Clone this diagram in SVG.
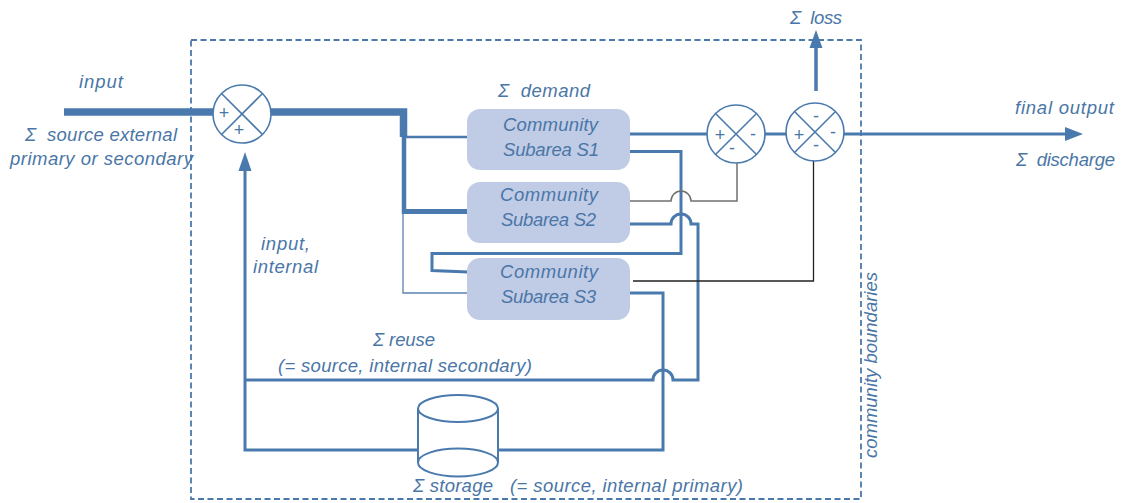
<svg xmlns="http://www.w3.org/2000/svg" width="1135" height="503" viewBox="0 0 1135 503">
  <style>
    text { font-family: "Liberation Sans", Arial, sans-serif; font-style: italic; fill: #4a76a6; white-space: pre; }
    .lbl { font-size: 18.5px; }
    .box-text { font-size: 18.5px; }
    .sign { font-size: 18px; font-style: normal; text-anchor: middle; dominant-baseline: central; }
    .flow { fill: none; stroke: #4a7aad; stroke-width: 3; }
    .thin { fill: none; stroke: #5a82b0; stroke-width: 1.3; }
    .grey { fill: none; stroke: #707070; stroke-width: 1.5; }
    .dark { fill: none; stroke: #222222; stroke-width: 1.3; }
    .junction circle { fill: #ffffff; stroke: #4a7aad; stroke-width: 1.6; }
    .junction line { stroke: #4a7aad; stroke-width: 1.6; }
    .area rect { fill: #c0cbe6; }
    .head { fill: #4a7aad; }
  </style>

  <!-- community boundary -->
  <rect x="191" y="40" width="670" height="459" fill="none" stroke="#4a7aad" stroke-width="1.8" stroke-dasharray="6 3.5"/>

  <g id="connectors">
    <!-- external input -->
    <line x1="64" y1="112" x2="213" y2="112" stroke="#4a7aad" stroke-width="7.5"/>
    <!-- trunk to sub-areas -->
    <path d="M271,112 H403.5 V137" fill="none" stroke="#4a7aad" stroke-width="7.5" stroke-linejoin="miter"/>
    <line x1="404" y1="137" x2="404" y2="214" stroke="#4a7aad" stroke-width="4.5"/>
    <line x1="402" y1="211.5" x2="468" y2="211.5" stroke="#4a7aad" stroke-width="5"/>
    <line x1="404" y1="137" x2="468" y2="137" stroke="#4a7aad" stroke-width="2.5"/>
    <path class="thin" d="M403,213 V293 H468"/>

    <!-- S1 to junction 2 -->
    <line class="flow" x1="630" y1="134" x2="707" y2="134"/>
    <!-- junction 2 to junction 3 -->
    <line class="flow" x1="765" y1="134" x2="786" y2="134"/>
    <!-- final output -->
    <line class="flow" x1="844" y1="134" x2="1068" y2="134"/>
    <polygon class="head" points="1083,134 1065,127 1065,141"/>
    <!-- loss -->
    <line x1="816" y1="91" x2="816" y2="46" stroke="#4a7aad" stroke-width="3.5"/>
    <polygon class="head" points="816,30 809.5,48 822.5,48"/>

    <!-- S1 loop to S3 -->
    <path class="flow" d="M626,151.5 H681 V253.5 H432 V270.5 L468,272"/>
    <!-- S2 to junction 2 (grey, with hop) -->
    <path class="grey" d="M630,201 H671 A10,10 0 0 1 691,201 H737 V163"/>
    <!-- S2 reuse line -->
    <path class="flow" d="M630,224 H671 A10,10 0 0 1 691,224 H698 V380 H673 A10,10 0 0 0 653,380 H245"/>
    <!-- S3 to junction 3 -->
    <path class="dark" d="M633,281 H813.5 V160"/>
    <!-- S3 to storage -->
    <path class="flow" d="M630,293 H663 V450 H498"/>
    <!-- storage to internal input -->
    <path class="flow" d="M418,450 H245 V170"/>
    <polygon class="head" points="245,152 238.5,171 251.5,171"/>
  </g>

  <!-- summing junctions -->
  <g id="junction-input" class="junction">
    <circle cx="242" cy="114" r="29"/>
    <line x1="221.5" y1="93.5" x2="262.5" y2="134.5"/>
    <line x1="262.5" y1="93.5" x2="221.5" y2="134.5"/>
    <text class="sign" x="224" y="113">+</text>
    <text class="sign" x="239" y="130">+</text>
  </g>
  <g id="junction-demand" class="junction">
    <circle cx="736" cy="134" r="29"/>
    <line x1="715.5" y1="113.5" x2="756.5" y2="154.5"/>
    <line x1="756.5" y1="113.5" x2="715.5" y2="154.5"/>
    <text class="sign" x="720" y="135">+</text>
    <text class="sign" x="753" y="134">-</text>
    <text class="sign" x="732" y="148">-</text>
  </g>
  <g id="junction-loss" class="junction">
    <circle cx="815" cy="132" r="29"/>
    <line x1="794.5" y1="111.5" x2="835.5" y2="152.5"/>
    <line x1="835.5" y1="111.5" x2="794.5" y2="152.5"/>
    <text class="sign" x="816" y="116">-</text>
    <text class="sign" x="799" y="135">+</text>
    <text class="sign" x="833" y="132">-</text>
    <text class="sign" x="816" y="145">-</text>
  </g>

  <!-- community sub-areas -->
  <g id="subarea-s1" class="area">
    <rect x="467" y="109" width="163" height="61" rx="13"/>
    <text class="box-text" x="503" y="131" textLength="95">Community</text>
    <text class="box-text" x="503" y="155.5" textLength="96">Subarea S1</text>
  </g>
  <g id="subarea-s2" class="area">
    <rect x="467" y="182" width="163" height="61" rx="13"/>
    <text class="box-text" x="500" y="201" textLength="98">Community</text>
    <text class="box-text" x="501" y="226" textLength="95">Subarea S2</text>
  </g>
  <g id="subarea-s3" class="area">
    <rect x="467" y="258" width="163" height="62" rx="13"/>
    <text class="box-text" x="500" y="278" textLength="98">Community</text>
    <text class="box-text" x="501" y="303" textLength="95">Subarea S3</text>
  </g>

  <!-- storage -->
  <g id="storage">
    <rect x="418" y="408.5" width="80" height="54" fill="#ffffff"/>
    <line x1="418" y1="408.5" x2="418" y2="462.5" stroke="#4a7aad" stroke-width="2"/>
    <line x1="498" y1="408.5" x2="498" y2="462.5" stroke="#4a7aad" stroke-width="2"/>
    <ellipse cx="458" cy="462.5" rx="40" ry="14" fill="none" stroke="#4a7aad" stroke-width="2"/>
    <ellipse cx="458" cy="408.5" rx="40" ry="13.5" fill="#ffffff" stroke="#4a7aad" stroke-width="2"/>
  </g>

  <!-- labels -->
  <g id="labels">
    <text class="lbl" x="79" y="88" textLength="44">input</text>
    <text class="lbl" x="25" y="141" textLength="152">Σ  source external</text>
    <text class="lbl" x="10" y="165" textLength="183">primary or secondary</text>
    <text class="lbl" x="498" y="97" textLength="92">Σ  demand</text>
    <text class="lbl" x="790" y="24" textLength="52">Σ  loss</text>
    <text class="lbl" x="1015" y="114" textLength="99">final output</text>
    <text class="lbl" x="1016" y="166" textLength="99">Σ  discharge</text>
    <text class="lbl" x="261" y="250" textLength="49">input,</text>
    <text class="lbl" x="253" y="273" textLength="65">internal</text>
    <text class="lbl" x="373" y="346" textLength="62">Σ reuse</text>
    <text class="lbl" x="278" y="372" textLength="254">(= source, internal secondary)</text>
    <text class="lbl" x="413" y="492" textLength="80">Σ storage</text>
    <text class="lbl" x="510" y="492" textLength="233">(= source, internal primary)</text>
    <text class="lbl" x="877" y="458" textLength="186" transform="rotate(-90 877 458)">community boundaries</text>
  </g>
</svg>
